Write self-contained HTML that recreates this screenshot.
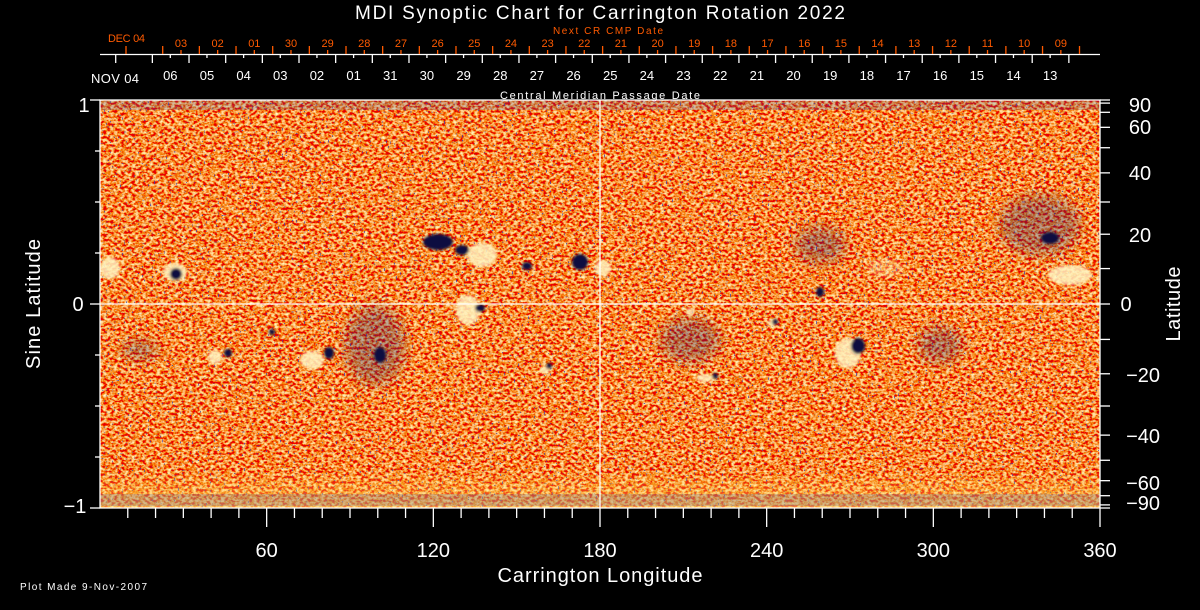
<!DOCTYPE html>
<html><head><meta charset="utf-8"><style>
html,body{margin:0;padding:0;background:#000;width:1200px;height:610px;overflow:hidden}
svg{display:block}
text{font-family:"Liberation Sans",sans-serif}
</style></head><body>
<svg id="s" width="1200" height="610" viewBox="0 0 1200 610" xmlns="http://www.w3.org/2000/svg">
<defs>
<filter id="n" x="0" y="0" width="100%" height="100%" filterUnits="objectBoundingBox">
<feTurbulence type="fractalNoise" baseFrequency="0.28 0.38" numOctaves="2" seed="7"/>
<feColorMatrix type="matrix" values="0.5 0 0 0 0.68  2.0 0 0 0 -0.72  1.4 0 0 0 -0.68  0 0 0 0 1"/>
</filter>
<filter id="sp" x="0" y="0" width="100%" height="100%">
<feTurbulence type="fractalNoise" baseFrequency="0.5 0.6" numOctaves="1" seed="3"/>
<feColorMatrix type="matrix" values="0 0 0 0 0.06  0 0 0 0 0.06  0 0 0 0 0.4  -25 0 0 0 8.0"/>
</filter>
<filter id="b"><feGaussianBlur stdDeviation="1.2"/></filter>
<filter id="b2"><feGaussianBlur stdDeviation="6"/></filter>
<linearGradient id="bot" x1="0" y1="0" x2="0" y2="1">
<stop offset="0" stop-color="#ffd040" stop-opacity="0"/>
<stop offset="1" stop-color="#ffe070" stop-opacity="0.55"/>
</linearGradient>
<clipPath id="c"><rect x="100" y="100" width="1000" height="408"/></clipPath>
</defs>
<rect width="1200" height="610" fill="#000"/>
<g clip-path="url(#c)">
<rect x="100" y="100" width="1000" height="408" fill="#e85a1c"/>
<rect x="100" y="100" width="1000" height="408" filter="url(#n)"/>
<rect x="100" y="100" width="1000" height="408" filter="url(#sp)" opacity="0.8"/>
<rect x="100" y="470" width="1000" height="38" fill="url(#bot)"/>
<rect x="100" y="494" width="1000" height="12" fill="#3030a0" opacity="0.2"/>
<rect x="100" y="100" width="1000" height="10" fill="#3040b0" opacity="0.2"/>
<g filter="url(#b2)">
<g fill="#1a1a70" opacity="0.3">
<ellipse cx="375" cy="345" rx="30" ry="40"/>
<ellipse cx="820" cy="245" rx="25" ry="18"/>
<ellipse cx="1040" cy="225" rx="40" ry="30"/>
<ellipse cx="690" cy="340" rx="30" ry="22"/>
<ellipse cx="140" cy="350" rx="18" ry="9"/>
<ellipse cx="940" cy="345" rx="22" ry="18"/>
</g>
</g>
<g filter="url(#b)">
<g fill="#fff4c0" opacity="0.85">
<ellipse cx="110" cy="268" rx="10" ry="11"/>
<ellipse cx="175" cy="272" rx="12" ry="9"/>
<ellipse cx="482" cy="255" rx="15" ry="12"/>
<ellipse cx="603" cy="268" rx="8" ry="8"/>
<ellipse cx="468" cy="310" rx="12" ry="15"/>
<ellipse cx="312" cy="360" rx="12" ry="9"/>
<ellipse cx="215" cy="357" rx="7" ry="7"/>
<ellipse cx="545" cy="370" rx="5" ry="4"/>
<ellipse cx="690" cy="312" rx="4" ry="4"/>
<ellipse cx="705" cy="378" rx="9" ry="4"/>
<ellipse cx="772" cy="323" rx="4" ry="4"/>
<ellipse cx="848" cy="353" rx="13" ry="15"/>
<ellipse cx="1070" cy="275" rx="22" ry="10"/>
<ellipse cx="885" cy="268" rx="18" ry="9" opacity="0.35"/>
</g>
<g fill="#0a0a40">
<ellipse cx="176" cy="274" rx="6" ry="6"/>
<ellipse cx="438" cy="242" rx="15" ry="8"/>
<ellipse cx="462" cy="250" rx="7" ry="5"/>
<ellipse cx="527" cy="266" rx="5" ry="4"/>
<ellipse cx="580" cy="262" rx="8" ry="8"/>
<ellipse cx="480" cy="308" rx="5" ry="4"/>
<ellipse cx="329" cy="353" rx="5" ry="6"/>
<ellipse cx="228" cy="353" rx="4" ry="4"/>
<ellipse cx="549" cy="366" rx="3" ry="3"/>
<ellipse cx="715" cy="376" rx="3" ry="3"/>
<ellipse cx="775" cy="322" rx="3" ry="3"/>
<ellipse cx="858" cy="346" rx="7" ry="8"/>
<ellipse cx="820" cy="292" rx="4" ry="5"/>
<ellipse cx="1050" cy="238" rx="9" ry="6"/>
<ellipse cx="272" cy="332" rx="3" ry="3"/>
<ellipse cx="380" cy="355" rx="6" ry="8"/>
</g>
</g>
</g>
<g id="ax" stroke="#fff" stroke-width="1.3" fill="none">
<rect x="100" y="100" width="1000" height="408"/>
<line x1="100" y1="304" x2="1100" y2="304"/>
<line x1="600" y1="100" x2="600" y2="508"/>
<line x1="100" y1="54.5" x2="1100" y2="54.5"/>
<line x1="90" y1="100" x2="100" y2="100"/>
<line x1="90" y1="304" x2="100" y2="304"/>
<line x1="90" y1="508" x2="100" y2="508"/>
</g>
<g fill="#fff" font-size="20">
<text x="600" y="19" text-anchor="middle" textLength="490" font-size="19">MDI Synoptic Chart for Carrington Rotation 2022</text>
<text x="608" y="34" fill="#ff5a00" font-size="10" text-anchor="middle" textLength="110">Next CR CMP Date</text>
<text x="600" y="99" font-size="11" text-anchor="middle" textLength="200">Central Meridian Passage Date</text>
<text x="108" y="42" fill="#ff5a00" font-size="11" textLength="37">DEC 04</text>
<text x="91" y="83" font-size="13" textLength="48">NOV 04</text>
<text x="84" y="112" text-anchor="middle">1</text>
<text x="78" y="311" text-anchor="middle">0</text>
<text x="75" y="513" text-anchor="middle">−1</text>
<text x="600" y="582" text-anchor="middle" textLength="205">Carrington Longitude</text>
<text x="20" y="590" font-size="10" textLength="127">Plot Made  9-Nov-2007</text>
<text transform="translate(40,304) rotate(-90)" text-anchor="middle" textLength="130">Sine Latitude</text>
<text transform="translate(1180,304) rotate(-90)" text-anchor="middle" textLength="75">Latitude</text>
</g>
<g id="dyn"></g>
</svg>
<script>
var NS="http://www.w3.org/2000/svg",g=document.getElementById("dyn");
function L(x1,y1,x2,y2,c){var e=document.createElementNS(NS,"line");e.setAttribute("x1",x1);e.setAttribute("y1",y1);e.setAttribute("x2",x2);e.setAttribute("y2",y2);e.setAttribute("stroke",c||"#fff");e.setAttribute("stroke-width","1.3");g.appendChild(e);}
function T(x,y,s,c,fs,a){var e=document.createElementNS(NS,"text");e.setAttribute("x",x);e.setAttribute("y",y);e.setAttribute("fill",c||"#fff");e.setAttribute("font-size",fs);e.setAttribute("text-anchor",a||"middle");e.textContent=s;g.appendChild(e);}
var d=36.66,O="#ff5a00";
var ol=["03","02","01","30","29","28","27","26","25","24","23","22","21","20","19","18","17","16","15","14","13","12","11","10","09"];
L(126,46,126,54,O);
for(var i=0;i<25;i++){var x=181+i*d;L(x-18.3,46,x-18.3,54,O);L(x,50,x,54,O);T(x,47,ol[i],O,11);}
L(163+25*d,46,163+25*d,54,O);
var wl=["06","05","04","03","02","01"];for(var k=31;k>=13;k--)wl.push(String(k));
for(i=0;i<=26;i++){var x=115.7+i*d;L(x,54,x,63);}
for(i=0;i<25;i++){var x=170.3+i*d;L(x,54,x,58);T(x,80,wl[i],"#fff",13);}
for(i=1;i<36;i++){var x=100+i*1000/36;var M=(i%6==0);L(x,508,x,M?527:518);if(M)T(x,557,String(i*10),"#fff",20);}
L(1100,508,1100,527);T(1100,557,"360","#fff",20);
[0.25,0.5,0.75].forEach(function(v){L(95,304-v*204,100,304-v*204);L(95,304+v*204,100,304+v*204);});
for(var lat=-90;lat<=90;lat+=10){var y=304-Math.sin(lat*Math.PI/180)*204;L(1100,y,1110,y);}
var lb={90:105,60:127,40:173,20:235,0:304,"-20":375,"-40":436,"-60":483,"-90":503};
for(var kk in lb){var v=+kk;var s=v<0?"−"+(-v):String(v);T(v<0?1160:(v==0?1126:1140),lb[kk]+7,s,"#fff",20,v<0?"end":"middle");}
</script>
</body></html>
